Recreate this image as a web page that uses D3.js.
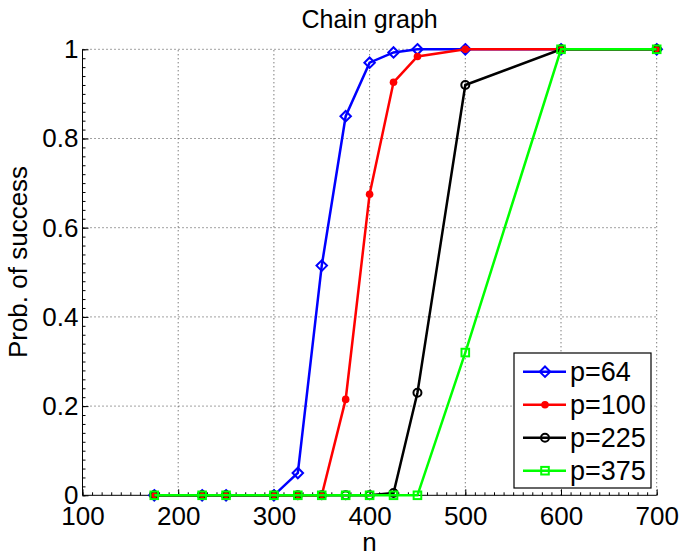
<!DOCTYPE html>
<html>
<head>
<meta charset="utf-8">
<script src="https://cdn.jsdelivr.net/npm/d3@7"></script>
<style>
 body { margin: 0; background: #fff; }
 svg text { font-family: "Liberation Sans", Arial, Helvetica, sans-serif; fill: #000; }
</style>
</head>
<body>
<script>

// data
var nVals  = [175, 225, 250, 300, 325, 350, 375, 400, 425, 450, 500, 600, 700]
var p64    = [0, 0, 0, 0, 0.05, 0.515, 0.85, 0.97, 0.993, 1, 1, 1, 1]
var p100   = [0, 0, 0, 0, 0, 0, 0.215, 0.675, 0.926, 0.984, 1, 1, 1]
var p225   = [0, 0, 0, 0, 0, 0, 0, 0, 0.005, 0.23, 0.92, 1, 1]
var p375   = [0, 0, 0, 0, 0, 0, 0, 0, 0, 0, 0.32, 1, 1]
var seriesNames = ['p=64', 'p=100', 'p=225', 'p=375']
var xTicks = [100, 200, 300, 400, 500, 600, 700]
var yTicks = [0, 0.2, 0.4, 0.6, 0.8, 1]

var W = 681, H = 553
// plot box (window.top is taken, so prefix these)
var pL = 82.5, pR = 656.7, pT = 49.3, pB = 495.3

var series = [
  { name: seriesNames[0], vals: p64,  color: '#0000ff', marker: 'diamond' },
  { name: seriesNames[1], vals: p100, color: '#ff0000', marker: 'dot' },
  { name: seriesNames[2], vals: p225, color: '#000000', marker: 'circle' },
  { name: seriesNames[3], vals: p375, color: '#00ff00', marker: 'square' }
]

var svg = d3.select('body').append('svg')
  .attr('width', W).attr('height', H)

svg.append('rect').attr('width', W).attr('height', H).attr('fill', '#fff')

var x = d3.scaleLinear().domain([100, 700]).range([pL, pR])
var y = d3.scaleLinear().domain([0, 1]).range([pB, pT])

// dotted grid
var grid = svg.append('g').attr('stroke', '#444').attr('stroke-width', 1)
  .attr('stroke-dasharray', '1,3')
grid.selectAll('.gx').data(xTicks.slice(1)).enter().append('line')
  .attr('x1', d => x(d)).attr('x2', d => x(d))
  .attr('y1', pB).attr('y2', pT)
grid.selectAll('.gy').data(yTicks.slice(1)).enter().append('line')
  .attr('x1', pL).attr('x2', pR)
  .attr('y1', d => y(d)).attr('y2', d => y(d))

// minor ticks
svg.append('g').attr('transform', 'translate(0,' + pB + ')')
  .call(d3.axisBottom(x).tickValues(d3.range(100, 701, 10)).tickSize(-3).tickFormat(''))
  .call(g => g.select('.domain').remove())
svg.append('g').attr('transform', 'translate(' + pL + ',0)')
  .call(d3.axisLeft(y).tickValues(d3.range(0, 1.001, 0.02)).tickSize(-3).tickFormat(''))
  .call(g => g.select('.domain').remove())

// axes
var xAxis = svg.append('g').attr('transform', 'translate(0,' + pB + ')')
  .call(d3.axisBottom(x).tickValues(xTicks).tickSizeInner(-6).tickSizeOuter(0).tickPadding(11))
var yAxis = svg.append('g').attr('transform', 'translate(' + pL + ',0)')
  .call(d3.axisLeft(y).tickValues(yTicks).tickSizeInner(-6).tickSizeOuter(0).tickPadding(4)
    .tickFormat(d => String(d)))
;[xAxis, yAxis].forEach(function(a) {
  a.attr('font-size', null).attr('font-family', null)
  a.selectAll('text').style('font-size', '26px')
  a.selectAll('path, line').attr('stroke', '#000')
})
xAxis.select('.domain').attr('d', 'M' + pL + ',0H' + pR)
yAxis.select('.domain').attr('d', 'M0,' + pB + 'V' + pT)

// lines
var line = d3.line().x(d => x(d[0])).y(d => y(d[1]))

function drawMarker(g, kind, color) {
  if (kind == 'diamond') {
    g.append('path').attr('d', d3.symbol(d3.symbolDiamond2, 70)())
      .attr('fill', 'none').attr('stroke', color).attr('stroke-width', 2)
  } else if (kind == 'dot') {
    g.append('circle').attr('r', 3.8).attr('fill', color)
  } else if (kind == 'circle') {
    g.append('circle').attr('r', 4).attr('fill', 'none').attr('stroke', color).attr('stroke-width', 2)
  } else {
    g.append('rect').attr('x', -3.8).attr('y', -3.8).attr('width', 7.6).attr('height', 7.6)
      .attr('fill', 'none').attr('stroke', color).attr('stroke-width', 2)
  }
}

series.forEach(function(s) {
  var pts = nVals.map((n, i) => [n, s.vals[i]])
  var g = svg.append('g')
  g.append('path').datum(pts).attr('d', line)
    .attr('fill', 'none').attr('stroke', s.color).attr('stroke-width', 2.5)
  pts.forEach(function(p) {
    var m = g.append('g').attr('transform', 'translate(' + x(p[0]) + ',' + y(p[1]) + ')')
    drawMarker(m, s.marker, s.color)
  })
})

// title and labels
svg.append('text').attr('x', (pL + pR) / 2).attr('y', 28)
  .attr('text-anchor', 'middle').style('font-size', '25px').text('Chain graph')
svg.append('text').attr('x', (pL + pR) / 2).attr('y', 551)
  .attr('text-anchor', 'middle').style('font-size', '26px').text('n')
svg.append('text').attr('transform', 'translate(27,262) rotate(-90)')
  .attr('text-anchor', 'middle').style('font-size', '26px').text('Prob. of success')

// legend
var lg = svg.append('g')
lg.append('rect').attr('x', 514).attr('y', 353).attr('width', 137).attr('height', 135)
  .attr('fill', '#fff').attr('stroke', '#000').attr('stroke-width', 1.2)
series.forEach(function(s, i) {
  var cy = 371.7 + i * 33
  lg.append('line').attr('x1', 523).attr('x2', 566).attr('y1', cy).attr('y2', cy)
    .attr('stroke', s.color).attr('stroke-width', 2.5)
  var m = lg.append('g').attr('transform', 'translate(545,' + cy + ')')
  drawMarker(m, s.marker, s.color)
  lg.append('text').attr('x', 570).attr('y', cy + 9.5).style('font-size', '27px').text(s.name)
})

</script>
</body>
</html>
